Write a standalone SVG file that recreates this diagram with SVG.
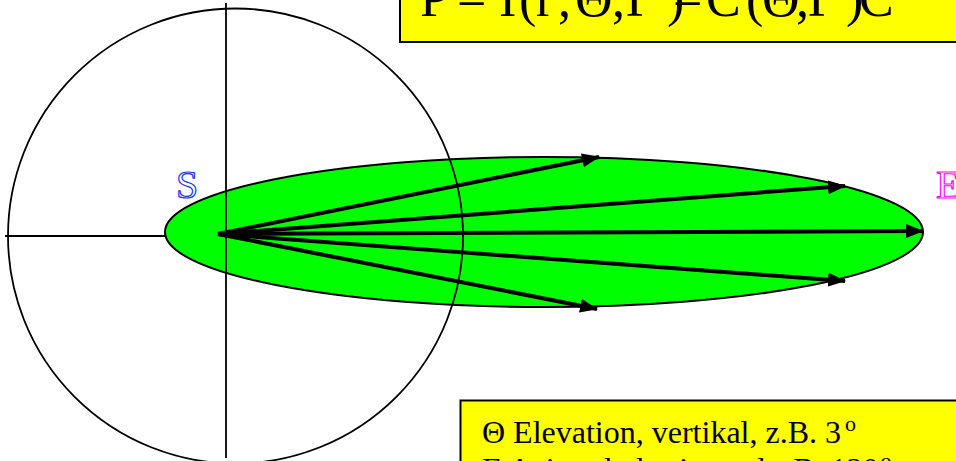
<svg xmlns="http://www.w3.org/2000/svg" width="956" height="461" viewBox="0 0 956 461">
  <style>
    .axis { stroke: #000; stroke-width: 1.8; fill: none; }
    .ray { stroke: #000; stroke-width: 4; fill: none; marker-end: url(#ah); }
    .box { fill: #ffff00; stroke: #000; stroke-width: 2; }
    .serif { font-family: "Liberation Serif", "Times New Roman", serif; }
    .outline { font-family: "Liberation Serif", "Times New Roman", serif; font-size: 40px; stroke-width: 1.2; fill: #ffffff; }
  </style>
  <defs>
    <marker id="ah" markerUnits="userSpaceOnUse" markerWidth="18" markerHeight="14" refX="17" refY="7" orient="auto">
      <path d="M0,0 L18,7 L0,14 z" fill="#000"/>
    </marker>
  </defs>
  <rect width="956" height="461" fill="#fff"/>

  <line id="h-axis" class="axis" x1="5" y1="236" x2="226" y2="236"/>

  <g id="lobe">
    <ellipse cx="544" cy="232" rx="379" ry="75" fill="#00ff00" stroke="#000" stroke-width="2"/>
  </g>

  <g id="circle">
    <circle cx="235.5" cy="236" r="227.5" class="axis"/>
    <line class="axis" x1="226" y1="3" x2="226" y2="458"/>
  </g>

  <g id="connectors">
    <line class="ray" x1="218" y1="234" x2="599" y2="157"/>
    <line class="ray" x1="218" y1="234" x2="845" y2="186"/>
    <line class="ray" x1="218" y1="234" x2="923" y2="231"/>
    <line class="ray" x1="218" y1="234" x2="845" y2="281"/>
    <line class="ray" x1="218" y1="234" x2="597" y2="309"/>
  </g>

  <g id="label-s">
    <text class="outline" x="176" y="198" stroke="#2030ff">S</text>
  </g>
  <g id="label-e">
    <text class="outline" x="936" y="198" stroke="#ff00ff">E</text>
  </g>

  <g id="title">
    <rect class="box" x="400" y="-10" width="600" height="52"/>
    <text class="serif" font-size="52" y="16" fill="#000"><tspan x="420">P</tspan> <tspan x="457">=</tspan> <tspan x="499 519 536 558 575 612 626 667">I(r,Θ,Γ)</tspan> <tspan x="673">=</tspan> <tspan x="706">C</tspan> <tspan x="746 762 796 808 846 859">(Θ,Γ)C</tspan></text>
  </g>

  <g id="legend">
    <rect class="box" x="460.5" y="400.5" width="600" height="120"/>
    <text class="serif" font-size="32" x="482" y="443" fill="#000">Θ Elevation, vertikal, z.B. 3<tspan dx="4" dy="-12" font-size="22">o</tspan></text>
    <text class="serif" font-size="32" x="482" y="480" fill="#000">Γ Azimuth, horizontal, <tspan x="771">z.B. 120</tspan><tspan dx="2" dy="-12" font-size="22">o</tspan></text>
  </g>
</svg>
